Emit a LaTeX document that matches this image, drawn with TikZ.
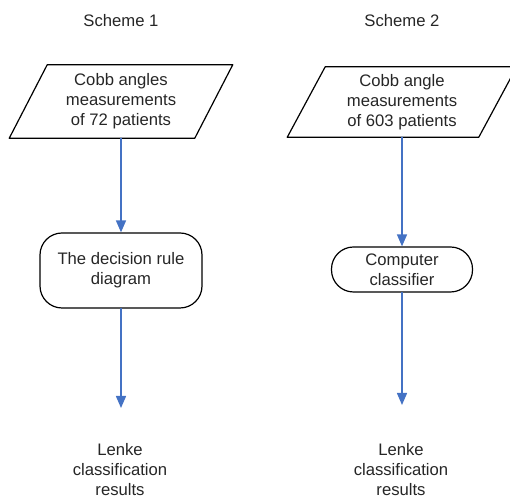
\documentclass[tikz,border=0pt]{standalone}
\usepackage{fontspec}
\setmainfont{Liberation Sans}
\usetikzlibrary{arrows.meta}
\definecolor{arrowblue}{HTML}{4472C4}

\tikzset{
  txt/.style={font=\fontsize{12.5}{15}\selectfont, text=black!85, align=center},
  indata/.style={txt, inner sep=0pt},
  proc/.style={txt, draw, line width=0.9pt, rounded corners=16.5pt, inner sep=0pt},
  flow/.style={-{Triangle[width=7.5pt,length=9pt]}, color=arrowblue, line width=1.1pt},
}

\begin{document}
\begin{tikzpicture}[line cap=round,line join=round,x=0.75pt,y=0.75pt]
\useasboundingbox (0,0) rectangle (510,498);
% titles
\node[txt] (s1) at (121,477) {Scheme 1};
\node[txt] (s2) at (402,477) {Scheme 2};
% input data
\node[indata,minimum width=110.25pt,minimum height=54.75pt] (in1) at (121,396.5) {Cobb angles\\measurements\\of 72 patients};
\node[indata,minimum width=114.75pt,minimum height=52.5pt] (in2) at (402,396) {Cobb angle\\measurements\\of 603 patients};
\foreach \n in {in1,in2}
\draw[line width=0.9pt] (\n.north west) -- ([xshift=28.5pt]\n.north east) -- (\n.south east) -- ([xshift=-28.5pt]\n.south west) -- cycle;
% processes
\node[proc,minimum width=121.5pt,minimum height=56.25pt] (p1) at (121,227.5) {The decision rule\\diagram};
\node[proc,minimum width=105.75pt,minimum height=33.75pt] (p2) at (402,228.5) {Computer\\classifier};
% results
\node[txt] (r1) at (120,28) {Lenke\\classification\\results};
\node[txt] (r2) at (401,28) {Lenke\\classification\\results};
\coordinate (e1) at (121,90);
\coordinate (e2) at (402,93);
% arrows
\draw[flow] (in1.south) -- (p1.north);
\draw[flow] (p1.south) -- (e1);
\draw[flow] (in2.south) -- (p2.north);
\draw[flow] (p2.south) -- (e2);
\end{tikzpicture}
\end{document}
